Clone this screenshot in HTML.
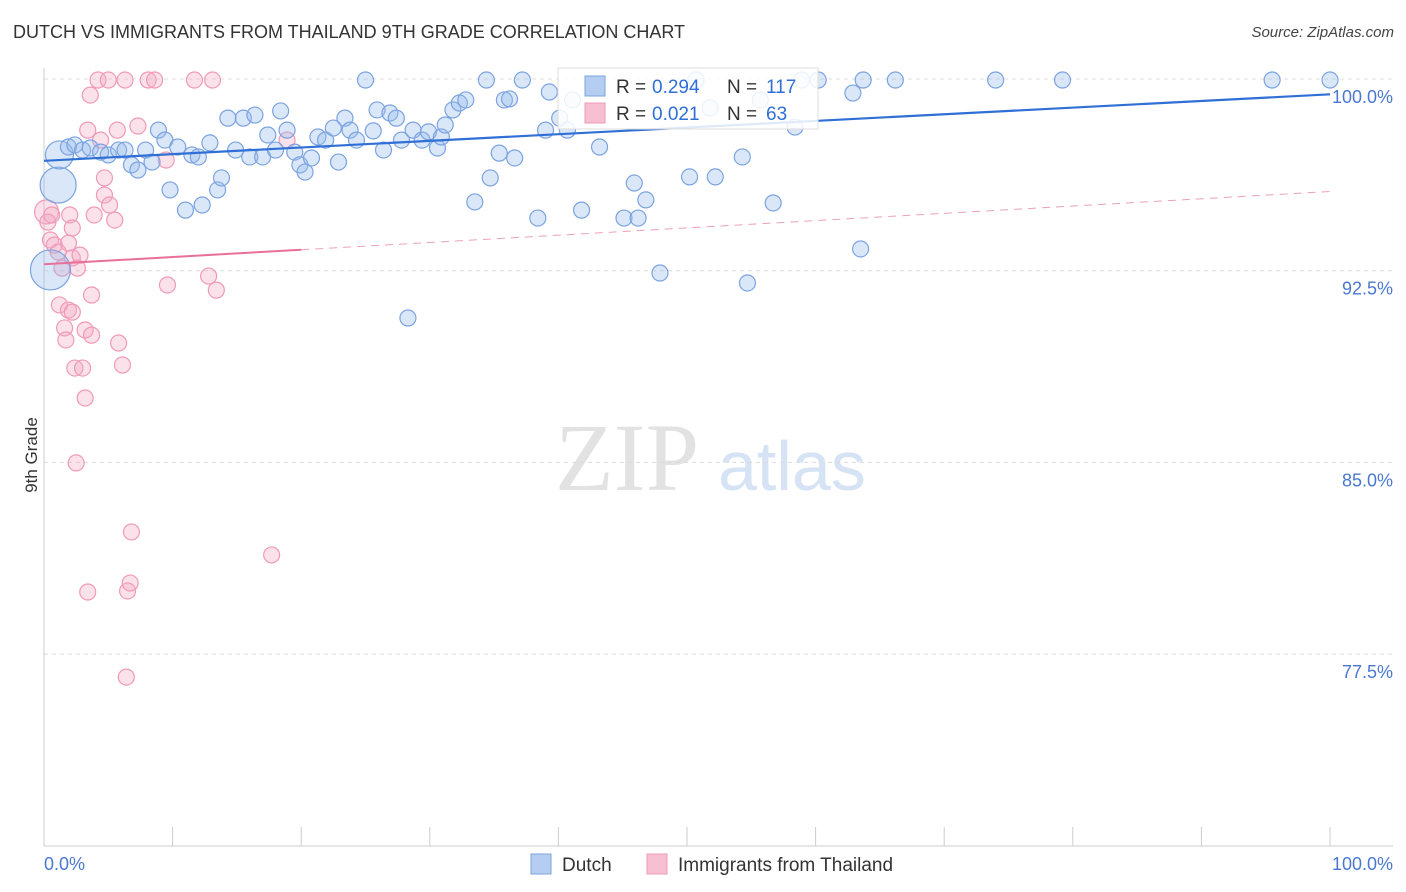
<!DOCTYPE html>
<html><head><meta charset="utf-8">
<style>
body{margin:0;background:#fff;font-family:"Liberation Sans",sans-serif;}
#wrap{position:relative;width:1406px;height:892px;overflow:hidden;}
.t{position:absolute;white-space:nowrap;}
</style></head>
<body>
<div id="wrap">
<div class="t" style="left:13px;top:22px;font-size:18px;color:#333;">DUTCH VS IMMIGRANTS FROM THAILAND 9TH GRADE CORRELATION CHART</div>
<div class="t" style="right:12px;top:24px;font-size:15px;color:#444;font-style:italic;">Source: ZipAtlas.com</div>
<div class="t" style="left:-6px;top:445px;font-size:17px;color:#333;transform:rotate(-90deg);">9th Grade</div>
<svg id="plot" width="1406" height="892" style="position:absolute;left:0;top:0"></svg>
</div>
<script>
const blueX=[1.1,1.2,0.5,1.9,2.4,3.0,3.6,4.4,5.0,5.8,6.3,6.8,7.3,7.9,8.4,8.9,9.4,9.8,10.4,11.0,11.5,12.0,12.3,12.9,13.5,13.8,14.3,14.9,15.5,16.0,16.4,17.0,17.4,18.0,18.4,18.9,19.5,19.9,20.3,20.8,21.3,21.9,22.5,22.9,23.4,23.8,24.3,25.0,25.6,25.9,26.4,26.9,27.4,27.8,28.7,29.4,29.9,30.6,30.9,31.2,31.8,32.3,32.8,33.5,34.4,34.7,35.4,35.8,36.2,36.6,37.2,38.4,39.0,39.3,40.1,40.7,41.1,41.8,43.2,45.1,45.9,46.2,46.8,47.9,50.2,50.7,51.8,52.2,54.3,54.7,55.7,56.7,58.4,58.9,60.2,62.9,63.5,63.7,66.2,74.0,79.2,95.5,100.0,28.3];
const blueY=[95.85,97.03,92.53,97.34,97.42,97.22,97.30,97.14,97.03,97.22,97.22,96.64,96.44,97.22,96.75,98.0,97.61,95.66,97.34,94.87,97.03,96.95,95.07,97.5,95.66,96.13,98.47,97.22,98.47,96.95,98.59,96.95,97.81,97.22,98.75,98.0,97.14,96.64,96.36,96.91,97.73,97.61,98.08,96.75,98.47,98.0,97.61,99.96,97.97,98.79,97.22,98.67,98.47,97.61,98.0,97.61,97.93,97.3,97.73,98.2,98.79,99.06,99.18,95.19,99.96,96.13,97.1,99.18,99.22,96.91,99.96,94.56,98.0,99.49,98.47,98.0,99.18,94.87,97.34,94.56,95.93,94.56,95.27,92.41,96.17,99.96,98.87,96.17,96.95,92.02,99.18,95.15,98.12,99.96,99.96,99.45,93.35,99.96,99.96,99.96,99.96,99.96,99.96,90.65];
const blueSize=[18,14,20];
const pinkX=[0.2,0.3,0.5,0.6,0.8,1.1,1.4,1.2,1.6,1.7,1.9,2.2,2.0,2.2,1.9,2.2,2.6,2.8,2.4,3.0,2.5,3.2,3.2,3.4,3.4,3.6,3.7,3.7,3.9,4.2,4.4,4.7,4.7,5.0,5.1,5.5,5.7,5.8,6.1,6.3,6.5,6.7,6.8,6.4,7.3,8.1,8.6,9.5,9.6,11.7,12.8,13.1,13.4,17.7,18.9];
const pinkY=[94.8,94.4,93.7,94.68,93.5,93.23,92.6,91.16,90.26,89.79,90.96,90.88,94.68,94.17,93.58,93.0,92.6,93.11,88.69,88.69,84.98,87.52,90.18,79.93,98.0,99.37,91.55,89.98,94.68,99.96,97.61,95.46,96.13,99.96,95.07,94.48,98.0,89.67,88.81,99.96,79.97,80.28,82.28,76.6,98.16,99.96,99.96,96.83,91.94,99.96,92.29,99.96,91.74,81.38,97.61];
const yTicks=[100,92.5,85,77.5];
const yTickLabels=["100.0%","92.5%","85.0%","77.5%"];
const blueTrend=[96.8,99.4];
const pinkTrend=[92.75,95.6];

const NS="http://www.w3.org/2000/svg";
const svg=document.getElementById('plot');
const X0=44,X1=1330,Y100=79,YPER=25.56;
const sx=v=>X0+(X1-X0)*v/100;
const sy=v=>Y100+(100-v)*YPER;
function mk(tag,attrs,parent){const e=document.createElementNS(NS,tag);for(const k in attrs)e.setAttribute(k,attrs[k]);(parent||svg).appendChild(e);return e;}

// watermark
const wm=mk('text',{x:555,y:490,'font-size':96,fill:'#e2e2e2','font-family':'Liberation Serif, serif'});wm.textContent='ZIP';


const wm2=mk('text',{x:718,y:490,'font-size':70,fill:'#d5e3f5','font-family':'Liberation Sans, sans-serif'});wm2.textContent='atlas';



yTicks.forEach((v,i)=>{
  const g=mk('line',{x1:X0,x2:1393,y1:sy(v),y2:sy(v),stroke:'#dcdcdc','stroke-dasharray':'4,4'});
  
  
  const t=mk('text',{x:1393,y:sy(v)+24,'text-anchor':'end','font-size':18,fill:'#4a78d0'});
  t.textContent=yTickLabels[i];
  
  
});
const ya=mk('line',{x1:X0,x2:X0,y1:68,y2:846,stroke:'#ccc'});


const xa=mk('line',{x1:X0,x2:1393,y1:846,y2:846,stroke:'#ccc'});


for(let i=0;i<=10;i++){
  const tk=mk('line',{x1:sx(i*10),x2:sx(i*10),y1:827,y2:846,stroke:'#ccc'});
  
  
}
const xl=mk('text',{x:44,y:870,'font-size':18,fill:'#4a78d0'});xl.textContent='0.0%';


const xr=mk('text',{x:1393,y:870,'text-anchor':'end','font-size':18,fill:'#4a78d0'});xr.textContent='100.0%';



pinkX.forEach((x,i)=>{
  const c=mk('circle',{cx:sx(x),cy:sy(pinkY[i]),r:i===0?12:8,fill:'rgba(244,170,195,0.35)',stroke:'#ef9ab8','stroke-width':1.2});
  
  
});
blueX.forEach((x,i)=>{
  const c=mk('circle',{cx:sx(x),cy:sy(blueY[i]),r:blueSize[i]||8,fill:'rgba(150,185,235,0.35)',stroke:'#7ba3e0','stroke-width':1.2});
  
  
});
const bt=mk('line',{x1:sx(0),y1:sy(blueTrend[0]),x2:sx(100),y2:sy(blueTrend[1]),stroke:'#2f6fd6','stroke-width':2.2});


const pm=pinkTrend[0]+(pinkTrend[1]-pinkTrend[0])*0.2;
const pt=mk('line',{x1:sx(0),y1:sy(pinkTrend[0]),x2:sx(20),y2:sy(pm),stroke:'#e8709a','stroke-width':2});


const pd=mk('line',{x1:sx(20),y1:sy(pm),x2:sx(100),y2:sy(pinkTrend[1]),stroke:'#eba0ba','stroke-width':1,'stroke-dasharray':'8,6'});



// legend box
const lg=mk('g',{});


mk('rect',{x:558,y:68,width:260,height:61,fill:'rgba(255,255,255,0.85)',stroke:'#ddd'},lg);
mk('rect',{x:585,y:76,width:20,height:20,fill:'#b5cdf0',stroke:'#7ba3e0'},lg);
mk('rect',{x:585,y:103,width:20,height:20,fill:'#f7c0d2',stroke:'#ef9ab8'},lg);
const rows=[["0.294","117",93],["0.021","63",120]];
rows.forEach(r=>{
  let t=mk('text',{x:616,y:r[2],'font-size':19,fill:'#333'},lg);t.textContent='R = ';
  t=mk('text',{x:652,y:r[2],'font-size':19,fill:'#2f6fd6'},lg);t.textContent=r[0];
  t=mk('text',{x:727,y:r[2],'font-size':19,fill:'#333'},lg);t.textContent='N = ';
  t=mk('text',{x:766,y:r[2],'font-size':19,fill:'#2f6fd6'},lg);t.textContent=r[1];
});
// bottom legend
const bl=mk('g',{});


mk('rect',{x:531,y:854,width:20,height:20,fill:'#b5cdf0',stroke:'#7ba3e0'},bl);
let tt=mk('text',{x:562,y:871,'font-size':19,fill:'#333'},bl);tt.textContent='Dutch';
mk('rect',{x:647,y:854,width:20,height:20,fill:'#f7c0d2',stroke:'#ef9ab8'},bl);
tt=mk('text',{x:678,y:871,'font-size':19,fill:'#333'},bl);tt.textContent='Immigrants from Thailand';
</script>
</body></html>
